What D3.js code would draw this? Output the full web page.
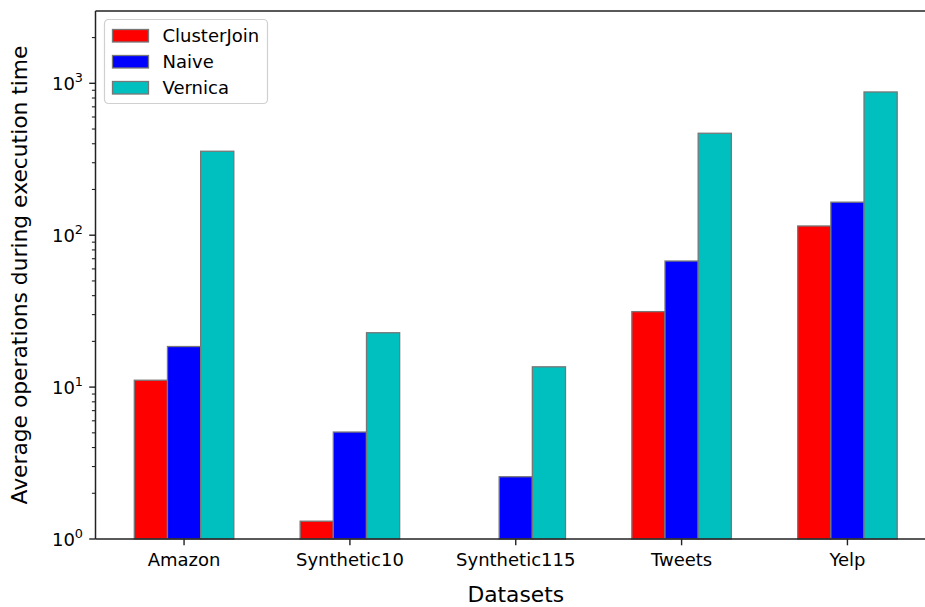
<!DOCTYPE html>
<html>
<head>
<meta charset="utf-8">
<script src="https://cdn.jsdelivr.net/npm/d3@7"></script>
<style>
  html, body { margin: 0; padding: 0; background: #fff; }
  svg { display: block; font-family: "DejaVu Sans", sans-serif; }
</style>
</head>
<body>
<svg id="chart" width="925" height="607"></svg>
<script>
// Datasets along the x axis
const categories = ["Amazon", "Synthetic10", "Synthetic115", "Tweets", "Yelp"];
// Average operations per method (null = no bar)
const clusterJoin = [11.1, 1.31, null, 31.4, 115];
const naive = [18.5, 5.06, 2.57, 67.6, 165];
const vernica = [357, 22.8, 13.6, 469, 877];
const seriesNames = ["ClusterJoin", "Naive", "Vernica"];
const seriesColors = ["#ff0000", "#0000ff", "#00bfbf"];
const yTickExponents = [0, 1, 2, 3];

const series = [clusterJoin, naive, vernica];

const svg = d3.select("#chart");
const plotLeft = 95.5, plotRight = 936, plotTop = 11, plotBottom = 539;

const x = d3.scaleLinear().domain([-0.534, categories.length - 1 + 0.534]).range([plotLeft, plotRight]);
const y = d3.scaleLog().domain([1, Math.pow(10, 3.476)]).range([plotBottom, plotTop]);
const barW = 0.2;

// Bars
series.forEach((vals, s) => {
  svg.append("g").selectAll("rect")
    .data(vals.map((v, i) => ({ v, i })).filter(d => d.v != null))
    .join("rect")
    .attr("x", d => x(d.i + (s - 1) * barW - barW / 2))
    .attr("width", x(barW) - x(0))
    .attr("y", d => y(d.v))
    .attr("height", d => y(1) - y(d.v))
    .attr("fill", seriesColors[s])
    .attr("stroke", "#777")
    .attr("stroke-width", 1.3);
});

// Y axis ticks (major + minor)
const axisColor = "#222";
const yAxis = svg.append("g");
const minorVals = [];
for (let e = 0; e <= 3; e++) {
  for (let m = 2; m <= 9; m++) {
    const v = m * Math.pow(10, e);
    if (v <= y.domain()[1]) minorVals.push(v);
  }
}
yAxis.selectAll("line.minor").data(minorVals).join("line")
  .attr("class", "minor")
  .attr("x1", plotLeft - 3.6).attr("x2", plotLeft)
  .attr("y1", d => y(d)).attr("y2", d => y(d))
  .attr("stroke", axisColor).attr("stroke-width", 1.1);
yAxis.selectAll("line.major").data(yTickExponents).join("line")
  .attr("class", "major")
  .attr("x1", plotLeft - 6.3).attr("x2", plotLeft)
  .attr("y1", d => y(Math.pow(10, d))).attr("y2", d => y(Math.pow(10, d)))
  .attr("stroke", axisColor).attr("stroke-width", 1.4);
const yLabels = yAxis.selectAll("text").data(yTickExponents).join("text")
  .attr("x", plotLeft - 12.5)
  .attr("y", d => y(Math.pow(10, d)) + 6.7)
  .attr("text-anchor", "end")
  .attr("font-size", 18)
  .attr("fill", "#000");
yLabels.append("tspan").text("10");
yLabels.append("tspan").attr("dy", -8).attr("font-size", 12.8).text(d => d);

// X axis ticks
const xAxis = svg.append("g");
xAxis.selectAll("line").data(categories).join("line")
  .attr("x1", (d, i) => x(i)).attr("x2", (d, i) => x(i))
  .attr("y1", plotBottom).attr("y2", plotBottom + 6.3)
  .attr("stroke", axisColor).attr("stroke-width", 1.4);
xAxis.selectAll("text").data(categories).join("text")
  .attr("x", (d, i) => x(i))
  .attr("y", 566)
  .attr("text-anchor", "middle")
  .attr("font-size", 18)
  .attr("fill", "#000")
  .text(d => d);

// Spines
svg.append("line").attr("x1", plotLeft).attr("x2", plotLeft).attr("y1", plotTop).attr("y2", plotBottom)
  .attr("stroke", axisColor).attr("stroke-width", 1.5);
svg.append("line").attr("x1", plotLeft).attr("x2", plotRight).attr("y1", plotBottom).attr("y2", plotBottom)
  .attr("stroke", axisColor).attr("stroke-width", 1.5);
svg.append("line").attr("x1", plotLeft).attr("x2", plotRight).attr("y1", plotTop).attr("y2", plotTop)
  .attr("stroke", axisColor).attr("stroke-width", 1.5);

// Axis titles
svg.append("text")
  .attr("x", x(2))
  .attr("y", 602)
  .attr("text-anchor", "middle")
  .attr("font-size", 21.8)
  .text("Datasets");
svg.append("text")
  .attr("transform", `translate(27,${(plotTop + plotBottom) / 2}) rotate(-90)`)
  .attr("text-anchor", "middle")
  .attr("font-size", 21.8)
  .text("Average operations during execution time");

// Legend
const lg = svg.append("g").attr("transform", "translate(104.5,19.5)");
lg.append("rect").attr("width", 163).attr("height", 84).attr("rx", 4)
  .attr("fill", "#fff").attr("fill-opacity", 0.8)
  .attr("stroke", "#d0d0d0").attr("stroke-width", 1.2);
seriesNames.forEach((name, i) => {
  lg.append("rect")
    .attr("x", 8).attr("y", 10 + i * 26)
    .attr("width", 36).attr("height", 12.5)
    .attr("fill", seriesColors[i])
    .attr("stroke", "#777").attr("stroke-width", 1.3);
  lg.append("text")
    .attr("x", 58).attr("y", 22 + i * 26)
    .attr("font-size", 18)
    .text(name);
});
</script>
</body>
</html>
